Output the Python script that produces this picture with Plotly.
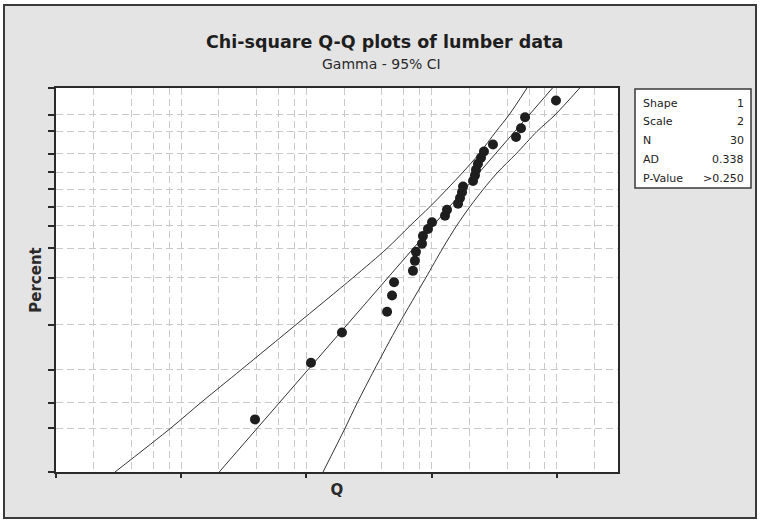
import numpy as np
import plotly.graph_objects as go

# ---------------- data ----------------
pct_data = [2.30, 5.59, 8.88, 12.17, 15.46, 18.75, 22.04, 25.33, 28.62, 31.91,
            35.20, 38.49, 41.78, 45.07, 48.36, 51.64, 54.93, 58.22, 61.51, 64.80,
            68.09, 71.38, 74.67, 77.96, 81.25, 84.54, 87.83, 91.12, 94.41, 97.70]
q_data = [0.0388, 0.1086, 0.192, 0.440, 0.482, 0.500, 0.708, 0.734, 0.748, 0.836,
          0.851, 0.933, 1.005, 1.276, 1.324, 1.622, 1.682, 1.745, 1.778, 2.135,
          2.214, 2.255, 2.340, 2.473, 2.612, 3.083, 4.71, 5.16, 5.56, 9.82]

fit_pct = [1, 99]
fit_q = [0.0201, 9.21]

ci_pct = [1, 2, 3, 5, 10, 20, 30, 40, 50, 60, 70, 80, 90, 95, 99]
ci_upper_q = [0.00296, 0.00822, 0.01439, 0.0300, 0.0824, 0.235, 0.440, 0.670,
              0.968, 1.324, 1.778, 2.384, 3.26, 4.14, 5.76]
ci_lower_q = [0.1355, 0.203, 0.255, 0.3475, 0.543, 0.897, 1.222, 1.578, 2.018,
              2.583, 3.373, 4.71, 6.92, 9.64, 15.18]

y_tick_pct = [1, 2, 3, 5, 10, 20, 30, 40, 50, 60, 70, 80, 90, 95, 99]
x_major = [0.001, 0.01, 0.1, 1, 10]
x_minor = [m * d for d in [0.001, 0.01, 0.1, 1, 10] for m in (2, 4, 6, 8)]

stat_labels = ["Shape", "Scale", "N", "AD", "P-Value"]
stat_values = ["1", "2", "30", "0.338", ">0.250"]


def pscale(p):
    """Exponential (Weibull-type) probability scale: -ln(1-p)."""
    return -np.log(1 - np.asarray(p, dtype=float) / 100.0)


# ---------------- figure ----------------
W, H = 760, 520
L, R, T, B = 56, 142, 88, 48
pw, ph = W - L - R, H - T - B


def px(x):
    return (x - L) / pw


def py(y):
    return (H - B - y) / ph


dark = "#2a2a2a"
fig = go.Figure()

for qs in (ci_upper_q, ci_lower_q):
    fig.add_trace(go.Scatter(x=qs, y=pscale(ci_pct), mode="lines",
                             line=dict(color="#333333", width=1, shape="spline",
                                       smoothing=0.8),
                             hoverinfo="skip", showlegend=False))
fig.add_trace(go.Scatter(x=fit_q, y=pscale(fit_pct), mode="lines",
                         line=dict(color="#333333", width=1),
                         hoverinfo="skip", showlegend=False))
fig.add_trace(go.Scatter(x=q_data, y=pscale(pct_data), mode="markers",
                         marker=dict(color="#1e1e1e", size=10),
                         showlegend=False))

grid = dict(showgrid=True, gridcolor="#c9c9c9", gridwidth=1, griddash="7px,4px")

fig.update_xaxes(type="log", range=[np.log10(0.001), np.log10(30.7)],
                 tickvals=x_major, showticklabels=False, ticks="outside",
                 ticklen=4, tickwidth=1.5, tickcolor=dark,
                 showline=True, linecolor=dark, linewidth=1.5, mirror=True,
                 zeroline=False,
                 minor=dict(tickvals=x_minor, showgrid=True, gridcolor="#c9c9c9",
                            griddash="7px,4px", ticks=""),
                 title=dict(text="<b>Q</b>", font=dict(size=15, color=dark,
                                                       family="DejaVu Sans"),
                            standoff=8),
                 **grid)
fig.update_yaxes(type="log", range=[np.log10(pscale(1)), np.log10(pscale(99))],
                 tickvals=pscale(y_tick_pct), showticklabels=False, ticks="outside",
                 ticklen=6, tickwidth=1.5, tickcolor=dark,
                 showline=True, linecolor=dark, linewidth=1.5, mirror=True,
                 zeroline=False,
                 title=dict(text="<b>Percent</b>", font=dict(size=15, color=dark,
                                                             family="DejaVu Sans"),
                            standoff=3),
                 **grid)

shapes = [
    dict(type="rect", xref="paper", yref="paper", layer="below",
         x0=px(4), x1=px(756), y0=py(518), y1=py(5),
         fillcolor="#e4e4e4", line=dict(color="#3a3a3a", width=2)),
    dict(type="rect", xref="paper", yref="paper", layer="below",
         x0=0, x1=1, y0=0, y1=1, fillcolor="white", line=dict(width=0)),
    dict(type="rect", xref="paper", yref="paper",
         x0=px(635), x1=px(751), y0=py(188), y1=py(89),
         fillcolor="white", line=dict(color="#3a3a3a", width=1.5)),
]

ann = [
    dict(text="<b>Chi-square Q-Q plots of lumber data</b>", xref="paper", yref="paper",
         x=px(385), y=py(42), showarrow=False, xanchor="center", yanchor="middle",
         font=dict(size=17.5, color="#1e1e1e", family="DejaVu Sans")),
    dict(text="Gamma - 95% CI", xref="paper", yref="paper",
         x=px(381), y=py(64), showarrow=False, xanchor="center", yanchor="middle",
         font=dict(size=14, color="#2a2a2a", family="DejaVu Sans")),
]
for i, (lab, val) in enumerate(zip(stat_labels, stat_values)):
    yy = 103 + i * 18.8
    ann.append(dict(text=lab, xref="paper", yref="paper", x=px(641), y=py(yy),
                    showarrow=False, xanchor="left", yanchor="middle",
                    font=dict(size=11, color="#222222", family="DejaVu Sans")))
    ann.append(dict(text=val, xref="paper", yref="paper", x=px(746), y=py(yy),
                    showarrow=False, xanchor="right", yanchor="middle",
                    font=dict(size=11, color="#222222", family="DejaVu Sans")))

fig.update_layout(width=W, height=H, margin=dict(l=L, r=R, t=T, b=B),
                  paper_bgcolor="white", plot_bgcolor="white",
                  shapes=shapes, annotations=ann, showlegend=False,
                  font=dict(family="DejaVu Sans"))

fig.write_html("out.html")
